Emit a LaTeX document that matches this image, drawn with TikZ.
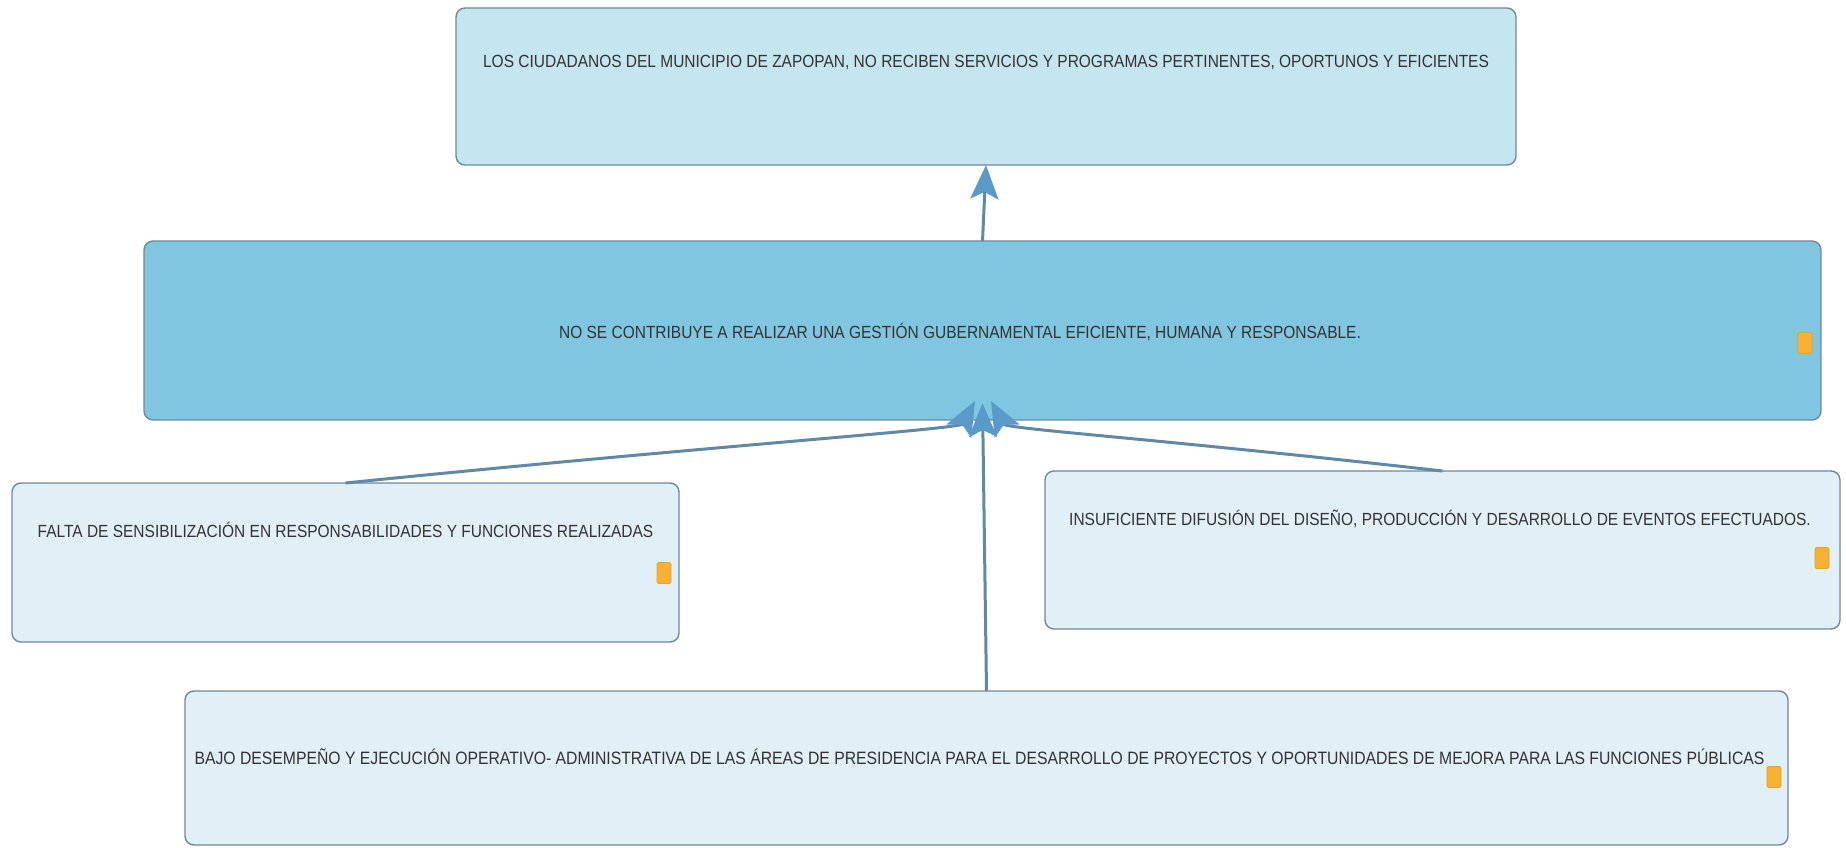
\documentclass[tikz,border=0pt]{standalone}
\usepackage{fontspec}
\setmainfont{Liberation Sans}
\newfontfamily\boxfont[FakeStretch=0.88]{Liberation Sans}
\usetikzlibrary{arrows.meta}
\definecolor{boxline}{HTML}{70899A}
\definecolor{efectofill}{HTML}{C5E5F1}
\definecolor{mediofill}{HTML}{80C6E1}
\definecolor{causafill}{HTML}{E1EFF6}
\definecolor{arrowline}{HTML}{6189A6}
\definecolor{arrowhead}{HTML}{5A9AC9}
\definecolor{marker}{HTML}{F8B133}
\definecolor{markerline}{HTML}{E9A22A}
\definecolor{boxtext}{HTML}{333333}

\begin{document}
\begin{tikzpicture}[x=1pt,y=1pt,
	box/.style={draw=boxline,line width=1.4pt,rounded corners=9pt,inner sep=0pt,outer sep=0pt},
	boxtxt/.style={font=\boxfont\fontsize{17.6}{20}\selectfont,text=boxtext,inner sep=0pt},
	marca/.style={fill=marker,draw=markerline,line width=0.8pt,rounded corners=2pt,minimum width=14pt,minimum height=21pt,inner sep=0pt},
	flecha/.style={draw=arrowline,line width=3pt,-{Stealth[length=34pt,width=28pt,inset=7pt,fill=arrowhead,color=arrowhead]}}]

		\useasboundingbox[fill=white] (0,0) rectangle (1846,847);

		%  the effect on top
		\node[box,fill=efectofill,minimum width=1060pt,minimum height=157pt] (efecto) at (986,760.5) {};
		\node[boxtxt] (tefecto) at (986,785) {LOS CIUDADANOS DEL MUNICIPIO DE ZAPOPAN, NO RECIBEN SERVICIOS Y PROGRAMAS PERTINENTES, OPORTUNOS Y EFICIENTES};

		% the central problem
		\node[box,fill=mediofill,minimum width=1677pt,minimum height=179pt] (medio) at (982.5,516.5) {};
		\node[boxtxt] (tmedio) at (960,515) {NO SE CONTRIBUYE A REALIZAR UNA GESTIÓN GUBERNAMENTAL EFICIENTE, HUMANA Y RESPONSABLE.};
		\node[marca] (mmedio) at (1805,504) {};

		% the causes
		\node[box,fill=causafill,minimum width=667pt,minimum height=159pt] (causa1) at (345.5,284.5) {};
		\node[boxtxt] (tcausa1) at (345.5,317) {FALTA DE SENSIBILIZACIÓN EN RESPONSABILIDADES Y FUNCIONES REALIZADAS};
		\node[marca] (mcausa1) at (664,274) {};

		\node[box,fill=causafill,minimum width=795pt,minimum height=158pt] (causa2) at (1442.5,297) {};
		\node[boxtxt] (tcausa2) at (1440,328) {INSUFICIENTE DIFUSIÓN DEL DISEÑO, PRODUCCIÓN Y DESARROLLO DE EVENTOS EFECTUADOS.};
		\node[marca] (mcausa2) at (1822,289) {};

		\node[box,fill=causafill,minimum width=1603pt,minimum height=154pt] (causa3) at (986.5,79) {};
		\node[boxtxt,font=\boxfont\fontsize{17.9}{20}\selectfont] (tcausa3) at (979.5,90) {BAJO DESEMPEÑO Y EJECUCIÓN OPERATIVO- ADMINISTRATIVA DE LAS ÁREAS DE PRESIDENCIA PARA EL DESARROLLO DE PROYECTOS Y OPORTUNIDADES DE MEJORA PARA LAS FUNCIONES PÚBLICAS};
		\node[marca] (mcausa3) at (1774,70) {};

		% where the heads meet under the central problem
		\coordinate (punta1) at ([shift={(-7.5pt,19pt)}]medio.south);
		\coordinate (punta2) at ([shift={(8.5pt,19pt)}]medio.south);
		\coordinate (punta3) at ([shift={(0pt,17pt)}]medio.south);

		%the connectors
		\draw[flecha] (medio.north) -- (efecto.south);
		\draw[flecha] (causa1.north) .. controls (700,400) and (960,418) .. (punta1);
		\draw[flecha] (causa2.north) .. controls (1150,409) and (1006,418) .. (punta2);
		\draw[flecha] (causa3.north) -- (punta3);

	\end{tikzpicture}
\end{document}
